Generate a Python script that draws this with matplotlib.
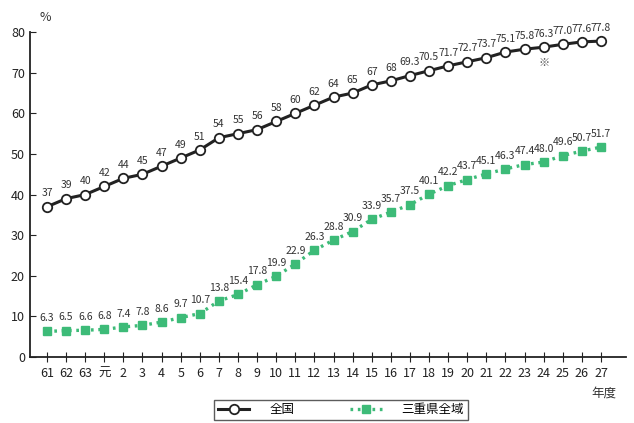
import matplotlib
matplotlib.use("Agg")
import matplotlib.pyplot as plt

plt.rcParams['font.family'] = ['Noto Sans CJK JP', 'DejaVu Sans']

years = ["61", "62", "63", "元"] + [str(i) for i in range(2, 28)]

zenkoku = [37, 39, 40, 42, 44, 45, 47, 49, 51, 54, 55, 56, 58, 60, 62, 64, 65, 67, 68, 69.3,
           70.5, 71.7, 72.7, 73.7, 75.1, 75.8, 76.3, 77.0, 77.6, 77.8]
zenkoku_lbl = ["37", "39", "40", "42", "44", "45", "47", "49", "51", "54", "55", "56", "58", "60",
               "62", "64", "65", "67", "68", "69.3", "70.5", "71.7", "72.7", "73.7", "75.1", "75.8",
               "76.3", "77.0", "77.6", "77.8"]
mie = [6.3, 6.5, 6.6, 6.8, 7.4, 7.8, 8.6, 9.7, 10.7, 13.8, 15.4, 17.8, 19.9, 22.9, 26.3, 28.8,
       30.9, 33.9, 35.7, 37.5, 40.1, 42.2, 43.7, 45.1, 46.3, 47.4, 48.0, 49.6, 50.7, 51.7]
mie_lbl = ["%.1f" % v for v in mie]

green = "#3dbb78"
x = list(range(len(years)))

fig = plt.figure(figsize=(6.34, 4.23), dpi=100)
ax = fig.add_axes([0.047, 0.156, 0.94, 0.768])

ax.plot(x, mie, color=green, lw=2.4, linestyle=(0, (0.8, 1.4)), dash_capstyle="butt",
        marker="s", ms=5.8, mfc=green, mec=green, label="三重県全域", zorder=3)
ax.plot(x, zenkoku, color="#222222", lw=2.2, marker="o", ms=6.8, mfc="white",
        mec="#222222", mew=1.3, label="全国", zorder=4)

for i in x:
    ax.annotate(zenkoku_lbl[i], (i, zenkoku[i]), xytext=(0, 6), textcoords="offset points",
                ha="center", va="bottom", fontsize=7.5, color="#333333")
    ax.annotate(mie_lbl[i], (i, mie[i]), xytext=(0, 6), textcoords="offset points",
                ha="center", va="bottom", fontsize=7.5, color="#333333")
ax.annotate("※", (26, zenkoku[26]), xytext=(0, -8), textcoords="offset points",
            ha="center", va="top", fontsize=8, color="#555555")

ax.set_xlim(-0.9, 30.3)
ax.set_ylim(0, 80)
ax.set_yticks(range(0, 81, 10))
ax.set_xticks(x)
ax.set_xticklabels(years)
ax.tick_params(axis="y", direction="in", length=4, labelsize=9, colors="#222222")
ax.tick_params(axis="x", direction="inout", length=7, labelsize=9, colors="#222222")
for s in ["top", "right"]:
    ax.spines[s].set_visible(False)
for s in ["left", "bottom"]:
    ax.spines[s].set_linewidth(1.3)
    ax.spines[s].set_color("#222222")

fig.text(0.072, 0.958, "%", fontsize=9, ha="center", va="center", color="#333333")
fig.text(0.952, 0.07, "年度", fontsize=9, ha="center", va="center", color="#333333")

h, l = ax.get_legend_handles_labels()
leg = fig.legend(h[::-1], l[::-1], loc="center", bbox_to_anchor=(0.538, 0.031), ncol=2,
                 frameon=True, fancybox=False, edgecolor="#333333", fontsize=9,
                 handlelength=2.5, handletextpad=1.6, columnspacing=4.5, borderpad=0.3,
                 borderaxespad=0)
leg.get_frame().set_linewidth(1.0)

fig.savefig("out.png", dpi=100)
